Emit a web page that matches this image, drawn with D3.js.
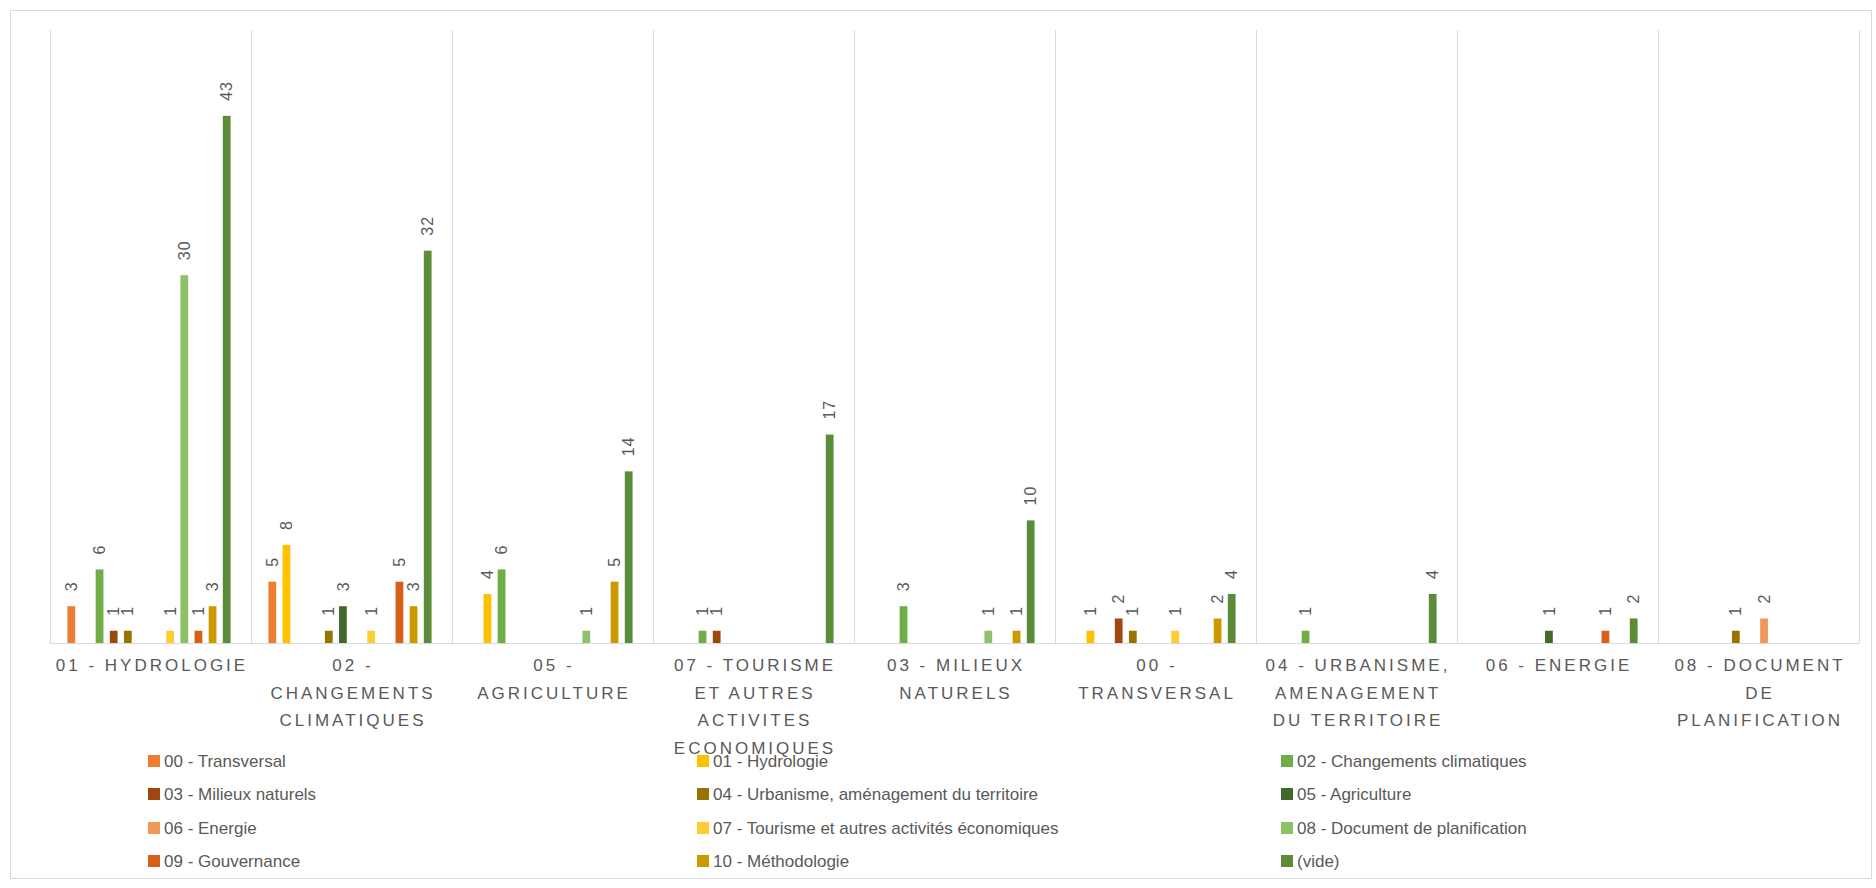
<!DOCTYPE html>
<html>
<head>
<meta charset="utf-8">
<script src="https://cdn.jsdelivr.net/npm/d3@7"></script>
<style>
  body { margin: 0; background: #fff; }
  text { font-family: "Liberation Sans", Arial, sans-serif; fill: #595959; }
</style>
</head>
<body>
<div id="graph"></div>
<script>
var categories = ["01 - HYDROLOGIE", "02 - CHANGEMENTS CLIMATIQUES", "05 - AGRICULTURE",
  "07 - TOURISME ET AUTRES ACTIVITES ECONOMIQUES", "03 - MILIEUX NATURELS", "00 - TRANSVERSAL",
  "04 - URBANISME, AMENAGEMENT DU TERRITOIRE", "06 - ENERGIE", "08 - DOCUMENT DE PLANIFICATION"];

var seriesNames = ["00 - Transversal", "01 - Hydrologie", "02 - Changements climatiques",
  "03 - Milieux naturels", "04 - Urbanisme, aménagement du territoire", "05 - Agriculture",
  "06 - Energie", "07 - Tourisme et autres activités économiques", "08 - Document de planification",
  "09 - Gouvernance", "10 - Méthodologie", "(vide)"];

var colors = ["#ED7D31", "#FFC000", "#70AD47", "#9E480E", "#997300", "#43682B",
  "#F1975A", "#FFCD33", "#8CC168", "#D5601A", "#CC9900", "#5B8C3A"];

// one array per series, values in category order (null = no bar)
var s00 = [3, 5, null, null, null, null, null, null, null];
var s01 = [null, 8, 4, null, null, 1, null, null, null];
var s02 = [6, null, 6, 1, 3, null, 1, null, null];
var s03 = [1, null, null, 1, null, 2, null, null, null];
var s04 = [1, 1, null, null, null, 1, null, null, 1];
var s05 = [null, 3, null, null, null, null, null, 1, null];
var s06 = [null, null, null, null, null, null, null, null, 2];
var s07 = [1, 1, null, null, null, 1, null, null, null];
var s08 = [30, null, 1, null, 1, null, null, null, null];
var s09 = [1, 5, null, null, null, null, null, 1, null];
var s10 = [3, 3, 5, null, 1, 2, null, null, null];
var sVide = [43, 32, 14, 17, 10, 4, 4, 2, null];
var values = [s00, s01, s02, s03, s04, s05, s06, s07, s08, s09, s10, sVide];

var W = 1876, H = 888;
var plotL = 50, plotR = 1859, plotT = 30, plotB = 643;

var svg = d3.select("#graph").append("svg")
    .attr("width", W).attr("height", H);

svg.append("rect")
   .attr("x", 10.5).attr("y", 10.5)
   .attr("width", 1861).attr("height", 868)
   .attr("fill", "#fff").attr("stroke", "#D9D9D9");

var x0 = d3.scaleBand().domain(categories).range([plotL, plotR]);
var gw = x0.bandwidth();
var x1 = d3.scaleBand().domain(d3.range(12)).range([gw * 0.055, gw * 0.93]).padding(0.45);
var y = d3.scaleLinear().domain([0, 50]).range([plotB, plotT]);

// vertical gridlines at category edges
var edges = categories.map(function(c) { return x0(c); }).concat([plotR]);
svg.selectAll(".grid")
   .data(edges)
   .enter()
   .append("line")
   .attr("x1", function(d) { return Math.round(d) + 0.5; })
   .attr("x2", function(d) { return Math.round(d) + 0.5; })
   .attr("y1", plotT).attr("y2", plotB)
   .style("stroke", "#D9D9D9");

var bars = [];
values.forEach(function(arr, si) {
  arr.forEach(function(v, ci) {
    if (v != null) bars.push({s: si, c: categories[ci], v: v});
  });
});

svg.selectAll("rect.bar")
   .data(bars)
   .enter()
   .append("rect")
   .attr("class", "bar")
   .attr("x", function(d) { return x0(d.c) + x1(d.s); })
   .attr("y", function(d) { return y(d.v); })
   .attr("width", x1.bandwidth())
   .attr("height", function(d) { return plotB - y(d.v); })
   .attr("fill", function(d) { return colors[d.s]; });

svg.selectAll("text.lbl")
   .data(bars)
   .enter()
   .append("text")
   .attr("class", "lbl")
   .attr("transform", function(d) {
     return "translate(" + (x0(d.c) + x1(d.s) + x1.bandwidth() / 2) + "," + (y(d.v) - 15) + ") rotate(-90)";
   })
   .attr("dy", "0.35em")
   .style("font-size", "16px")
   .style("letter-spacing", "1px")
   .text(function(d) { return d.v; });

// axis line
svg.append("line")
   .attr("x1", plotL).attr("x2", plotR)
   .attr("y1", plotB + 0.5).attr("y2", plotB + 0.5)
   .style("stroke", "#D9D9D9");

// category labels, wrapped to the band width
var catG = svg.selectAll("text.cat")
   .data(categories)
   .enter()
   .append("text")
   .attr("class", "cat")
   .attr("text-anchor", "middle")
   .style("font-size", "17px")
   .style("letter-spacing", "3px");

catG.each(function(c) {
  var t = d3.select(this);
  var words = c.split(" ");
  var lines = [], line = [];
  var probe = t.append("tspan");
  words.forEach(function(w) {
    var test = line.concat([w]).join(" ");
    probe.text(test);
    if (line.length && probe.node().getComputedTextLength() > gw - 8) {
      lines.push(line.join(" "));
      line = [w];
    } else {
      line.push(w);
    }
  });
  lines.push(line.join(" "));
  probe.remove();
  var cx = x0(c) + gw / 2;
  lines.forEach(function(l, i) {
    t.append("tspan")
     .attr("x", cx + 1.5)
     .attr("y", 671 + i * 27.7)
     .text(l);
  });
});

// legend
var legX = [148, 697, 1281];
var legY = [761, 794, 828, 861];
var leg = svg.selectAll("g.leg")
   .data(seriesNames)
   .enter()
   .append("g")
   .attr("class", "leg")
   .attr("transform", function(d, i) {
     return "translate(" + legX[i % 3] + "," + legY[Math.floor(i / 3)] + ")";
   });
leg.append("rect")
   .attr("x", 0).attr("y", -6)
   .attr("width", 12).attr("height", 12)
   .attr("fill", function(d, i) { return colors[i]; });
leg.append("text")
   .attr("x", 16).attr("dy", "0.35em")
   .style("font-size", "17px")
   .text(function(d) { return d; });
</script>
</body>
</html>
